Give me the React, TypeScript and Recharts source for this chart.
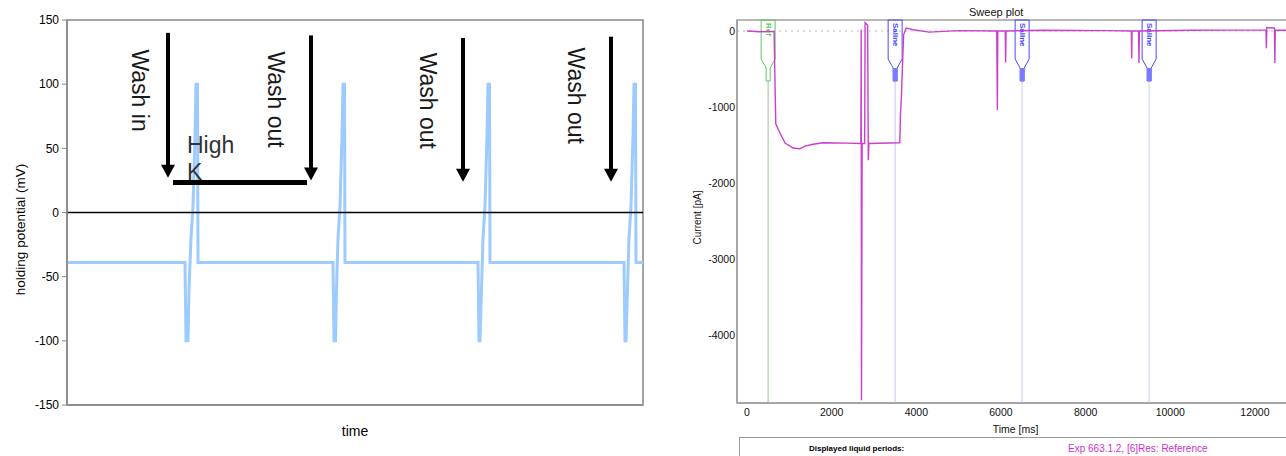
import {
  LineChart,
  Line,
  XAxis,
  YAxis,
  ReferenceLine,
  ReferenceDot,
  ReferenceArea,
} from "recharts";

// ---- left panel: holding potential (mV) over time (arbitrary units)
const hpTime = [
  0, 118, 119, 121, 122, 124, 126, 128, 129, 130.5, 131,
  266, 267, 268.5, 269.5, 271, 273, 275, 276, 277.5, 278,
  411, 412, 413, 414.5, 416, 418, 420, 421, 422.5, 423,
  557, 558, 559, 560.5, 562, 564, 566, 567, 568.5, 569, 576,
];
const hpMv = [
  -39, -39, -100, -100, -60, -20, 5, 60, 100, 100, -39,
  -39, -100, -100, -60, -20, 5, 60, 100, 100, -39,
  -39, -100, -100, -60, -20, 5, 60, 100, 100, -39,
  -39, -100, -100, -60, -20, 5, 60, 100, 100, -39, -39,
];
const hpTicks = [-150, -100, -50, 0, 50, 100, 150];

// wash annotations (arrow time, arrow start / tip in mV)
const washNames = ["Wash in", "Wash out", "Wash out", "Wash out"];
const washArrowT = [101, 244, 396, 544];
const washArrowTop = [140, 138, 136, 137];
const washArrowTip = [27, 25, 24, 24];
const washTextT = [73, 209, 361, 509];
const washTextMv = [95, 88, 87, 91];
const highKStart = 106;
const highKEnd = 240;
const highKLevel = 23.4;

// ---- right panel: sweep plot, current (pA) vs time (ms)
const sweepTime = [
  0, 300, 640, 680, 780, 900, 1090, 1250, 1370, 1560, 1800, 2360, 2690, 2698,
  2705, 2720, 2780, 2790, 2850, 2866, 2880, 3610, 3625, 3650, 3680, 3700, 3760,
  3900, 4300, 5000, 5900, 5915, 5925, 6100, 6110, 6120, 7000, 8500, 9080, 9088,
  9096, 9250, 9260, 9270, 10500, 12260, 12270, 12280, 12460, 12470, 12480, 13000,
];
const sweepCurrent = [
  0, -10, -5, -1220, -1345, -1475, -1540, -1550, -1515, -1490, -1470, -1475,
  -1480, 20, -4860, -1480, -1480, 110, 80, -1700, -1480, -1470, -1105, -840,
  -350, -50, 40, 20, -15, 5, 0, -1040, 0, 0, -415, 0, 10, 5, 0, -360, 0, 0,
  -420, 0, 10, 15, -225, 45, 40, -420, 10, 10,
];
const sweepYTicks = [-4000, -3000, -2000, -1000, 0];
const sweepXTicks = [0, 2000, 4000, 6000, 8000, 10000, 12000];
const liquidTimes = [500, 3500, 6500, 9500];
const liquidNames = ["Ref", "Saline", "Saline", "Saline"];

const hpData = hpTime.map((t, i) => ({ t, mv: hpMv[i] }));
const sweepData = sweepTime.map((t, i) => ({ t, pA: sweepCurrent[i] }));

const FONT = "'Liberation Sans', Arial, sans-serif";

const DownArrow = (props: any) => {
  const { x1, y1, x2, y2 } = props;
  const tipY = Math.max(y1, y2);
  const topY = Math.min(y1, y2);
  return (
    <g>
      <line x1={x1} y1={topY} x2={x2} y2={tipY - 10} stroke="#000" strokeWidth={4} />
      <polygon
        points={`${x2 - 7},${tipY - 13} ${x2 + 7},${tipY - 13} ${x2},${tipY}`}
        fill="#000"
      />
    </g>
  );
};

const RotatedText = (props: any) => {
  const { cx, cy, text } = props;
  return (
    <text
      x={cx}
      y={cy}
      transform={`rotate(90 ${cx} ${cy})`}
      textAnchor="middle"
      dominantBaseline="central"
      fontSize={23}
      fontFamily={FONT}
      fill="#1a1a1a"
    >
      {text}
    </text>
  );
};

const HighK = (props: any) => {
  const { cx, cy } = props;
  return (
    <g fontSize={23} fontFamily={FONT} fill="#333">
      <text x={cx} y={cy}>High</text>
      <text x={cx} y={cy + 27}>K</text>
    </g>
  );
};

const LiquidMarker = (props: any) => {
  const { x1, y1, y2, name } = props;
  const isRef = name === "Ref";
  const edge = isRef ? "#5fc85f" : "#4a4aff";
  const thin = isRef ? "#a9cfa9" : "#d2d2ff";
  const top = Math.min(y1, y2);
  const bottom = Math.max(y1, y2);
  const x = x1;
  const hw = 7;
  const boxB = top + 39;
  const neckY = boxB + 9;
  const stemB = neckY + 13;
  const d = `M${x - hw},${top} L${x + hw},${top} L${x + hw},${boxB} L${x + 2},${neckY} L${x + 2},${stemB} L${x - 2},${stemB} L${x - 2},${neckY} L${x - hw},${boxB} Z`;
  return (
    <g>
      <line x1={x} y1={stemB} x2={x} y2={bottom} stroke={thin} strokeWidth={1.2} />
      <path d={d} fill="none" stroke={edge} strokeWidth={1} />
      {!isRef && (
        <rect x={x - 2} y={neckY} width={4} height={stemB - neckY} fill="#7a7aff" />
      )}
      <text
        x={x}
        y={top + 3}
        transform={`rotate(90 ${x} ${top + 3})`}
        textAnchor="start"
        dominantBaseline="central"
        fontSize={8}
        fontWeight="bold"
        fontFamily={FONT}
        fill={edge}
      >
        {name}
      </text>
    </g>
  );
};

const HoldingPotentialChart = () => (
  <LineChart
    width={660}
    height={456}
    data={hpData}
    margin={{ top: 20, right: 17, bottom: 0, left: 0 }}
  >
    <XAxis
      type="number"
      dataKey="t"
      domain={[0, 576]}
      height={51}
      tick={false}
      tickLine={false}
      axisLine={{ stroke: "#888", strokeWidth: 1.5 }}
      label={{ value: "time", position: "center", dy: 1, fontSize: 14, fill: "#000", fontFamily: FONT }}
    />
    <YAxis
      type="number"
      domain={[-150, 150]}
      ticks={hpTicks}
      width={67}
      tickSize={5}
      tickMargin={3}
      interval={0}
      axisLine={{ stroke: "#888", strokeWidth: 1.5 }}
      tickLine={{ stroke: "#888" }}
      tick={{ fontSize: 12, fill: "#000", fontFamily: FONT }}
      label={{
        value: "holding potential (mV)",
        angle: -90,
        position: "center",
        dx: -13,
        dy: 17,
        fontSize: 13.5,
        fill: "#000",
        fontFamily: FONT,
      }}
    />
    <ReferenceArea x1={0} x2={576} y1={-150} y2={150} fill="none" stroke="#888" strokeWidth={1.5} />
    <Line
      type="linear"
      dataKey="mv"
      stroke="#9ccbff"
      strokeWidth={3}
      dot={false}
      isAnimationActive={false}
    />
    <ReferenceLine y={0} stroke="#000" strokeWidth={1.5} />
    {washNames.map((name, i) => (
      <ReferenceDot
        key={`wt-${i}`}
        x={washTextT[i]}
        y={washTextMv[i]}
        shape={(p: any) => <RotatedText {...p} text={name} />}
      />
    ))}
    <ReferenceDot x={highKStart + 14} y={46.4} shape={(p: any) => <HighK {...p} />} />
    {washArrowT.map((t, i) => (
      <ReferenceLine
        key={`wa-${i}`}
        segment={[
          { x: t, y: washArrowTop[i] },
          { x: t, y: washArrowTip[i] },
        ]}
        shape={(p: any) => <DownArrow {...p} />}
      />
    ))}
    <ReferenceLine
      segment={[
        { x: highKStart, y: highKLevel },
        { x: highKEnd, y: highKLevel },
      ]}
      stroke="#000"
      strokeWidth={5}
    />
  </LineChart>
);

const SweepChart = () => (
  <LineChart
    width={620}
    height={456}
    data={sweepData}
    margin={{ top: 20, right: 0, bottom: 20, left: 0 }}
  >
    <XAxis
      type="number"
      dataKey="t"
      domain={[-236, 13064]}
      allowDataOverflow
      ticks={sweepXTicks}
      interval={0}
      height={33}
      tickSize={4}
      tickMargin={2}
      tickLine={false}
      axisLine={{ stroke: "#a0a0a0", strokeWidth: 1.5 }}
      tick={{ fontSize: 10.5, fill: "#111", fontFamily: FONT }}
      label={{ value: "Time [ms]", position: "center", dx: -3, dy: 10, fontSize: 10.5, fill: "#111", fontFamily: FONT }}
    />
    <YAxis
      type="number"
      domain={[-4895, 145]}
      allowDataOverflow
      ticks={sweepYTicks}
      interval={0}
      width={57}
      tickSize={2}
      tickMargin={0}
      tickLine={false}
      axisLine={{ stroke: "#a0a0a0", strokeWidth: 1.5 }}
      tick={{ fontSize: 10.5, fill: "#111", fontFamily: FONT }}
      label={{
        value: "Current [pA]",
        angle: -90,
        position: "center",
        dx: -11.5,
        dy: 6,
        fontSize: 10,
        fill: "#111",
        fontFamily: FONT,
      }}
    />
    <ReferenceArea x1={-236} x2={13064} y1={-4895} y2={145} fill="none" stroke="#a0a0a0" strokeWidth={1.5} />
    <ReferenceLine y={0} stroke="#bbbbbb" strokeDasharray="2 4" />
    {liquidTimes.map((t, i) => (
      <ReferenceLine
        key={`lq-${i}`}
        x={t}
        shape={(p: any) => <LiquidMarker {...p} name={liquidNames[i]} />}
      />
    ))}
    <Line
      type="linear"
      dataKey="pA"
      stroke="#cc3fcc"
      strokeWidth={1.4}
      dot={false}
      isAnimationActive={false}
    />
  </LineChart>
);

export default function App() {
  return (
    <div
      style={{
        position: "absolute",
        left: 0,
        top: 0,
        width: 1286,
        height: 456,
        overflow: "hidden",
        background: "#fff",
        fontFamily: FONT,
      }}
    >
      <div style={{ position: "absolute", left: 0, top: 0 }}>
        <HoldingPotentialChart />
      </div>
      <div style={{ position: "absolute", left: 680, top: 0 }}>
        <SweepChart />
      </div>
      <div
        style={{
          position: "absolute",
          left: 969,
          top: 6,
          fontSize: 11,
          lineHeight: "12px",
          color: "#111",
        }}
      >
        Sweep plot
      </div>
      <div
        style={{
          position: "absolute",
          left: 739,
          top: 437,
          width: 600,
          height: 22,
          borderTop: "1px solid #999",
          borderLeft: "1px solid #999",
        }}
      >
        <span
          style={{
            position: "absolute",
            left: 69,
            top: 6,
            fontSize: 8,
            fontWeight: "bold",
            lineHeight: "10px",
            color: "#000",
          }}
        >
          Displayed liquid periods:
        </span>
        <span
          style={{
            position: "absolute",
            left: 328,
            top: 5,
            fontSize: 10,
            lineHeight: "12px",
            color: "#cc33cc",
          }}
        >
          Exp 663.1.2, [6]Res: Reference
        </span>
      </div>
    </div>
  );
}
